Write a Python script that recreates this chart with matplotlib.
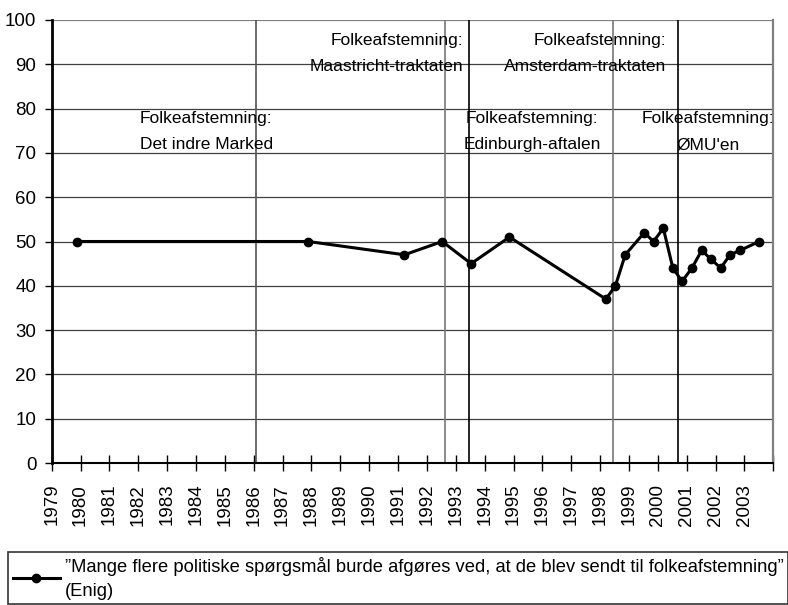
import matplotlib
matplotlib.use("Agg")
import matplotlib.pyplot as plt

plt.rcParams['font.family'] = ['Liberation Sans', 'DejaVu Sans']

# Data (x = fractional year, y = percent)
years = [1979.87, 1987.89, 1991.22, 1992.53, 1993.53, 1994.86, 1998.20, 1998.53,
         1998.87, 1999.53, 1999.85, 2000.19, 2000.52, 2000.84, 2001.18, 2001.52,
         2001.84, 2002.18, 2002.50, 2002.85, 2003.51]
values = [50, 50, 47, 50, 45, 51, 37, 40, 47, 52, 50, 53, 44, 41, 44, 48, 46, 44,
          47, 48, 50]

tick_years = list(range(1979, 2005))
tick_labels = [str(y) for y in range(1979, 2004)] + [""]

ref_lines = [1986.08, 1992.63, 1993.47, 1998.46, 2000.70]
ref_colors = ['#555555', '#777777', '#000000', '#777777', '#000000']

annotations = [
    ("Folkeafstemning:\nDet indre Marked", 1984.35, 74.8, 'center'),
    ("Folkeafstemning:\nMaastricht-traktaten", 1993.25, 92.4, 'right'),
    ("Folkeafstemning:\nAmsterdam-traktaten", 2000.29, 92.4, 'right'),
    ("Folkeafstemning:\nEdinburgh-aftalen", 1995.64, 74.8, 'center'),
    ("Folkeafstemning:\nØMU'en", 2001.74, 74.8, 'center'),
]

legend_label = ("\u201dMange flere politiske spørgsmål burde afgøres ved, at de blev "
                "sendt til folkeafstemning\u201d\n(Enig)")

fig = plt.figure(figsize=(7.88, 6.05), dpi=100)
ax = fig.add_axes([51.7 / 788, 1 - 463 / 605, (773.3 - 51.7) / 788, (463 - 20) / 605])

ax.set_xlim(1979, 2004)
ax.set_ylim(0, 100)

# horizontal gridlines
for yv in range(10, 101, 10):
    if yv == 100:
        ax.axhline(yv, color='#808080', lw=1.6, zorder=1)
    else:
        ax.axhline(yv, color='#404040', lw=0.9, zorder=1)

for xv, c in zip(ref_lines, ref_colors):
    ax.axvline(xv, color=c, lw=1.2, zorder=1)

line, = ax.plot(years, values, color='black', lw=2.2, marker='o', markersize=6,
                zorder=3, label=legend_label)

for txt, xv, yv, ha in annotations:
    ax.text(xv, yv, txt, ha=ha, va='center', fontsize=12.5, linespacing=1.95,
            zorder=2)

ax.set_yticks(range(0, 101, 10))
ax.set_xticks(tick_years)
ax.set_xticklabels(tick_labels, rotation=90)
ax.tick_params(axis='y', labelsize=13.5, length=5, width=1, direction='out', pad=6)
ax.tick_params(axis='x', labelsize=13.5, length=12, width=1, direction='inout', pad=9)

ax.spines['top'].set_visible(False)
ax.spines['right'].set_color('#808080')
ax.spines['right'].set_linewidth(1.6)
ax.spines['left'].set_linewidth(2.0)
ax.spines['bottom'].set_linewidth(1.5)

leg = ax.legend(handles=[line], loc='upper left',
                bbox_to_anchor=(8 / 788, 1 - 552 / 605), bbox_transform=fig.transFigure,
                fontsize=13.2, frameon=True, fancybox=False, edgecolor='black',
                handlelength=2.6, handletextpad=0.25, borderpad=0.25, borderaxespad=0)
leg.get_frame().set_linewidth(1.2)
for t in leg.get_texts():
    t.set_linespacing(1.55)

fig.savefig("out.png", dpi=100)
